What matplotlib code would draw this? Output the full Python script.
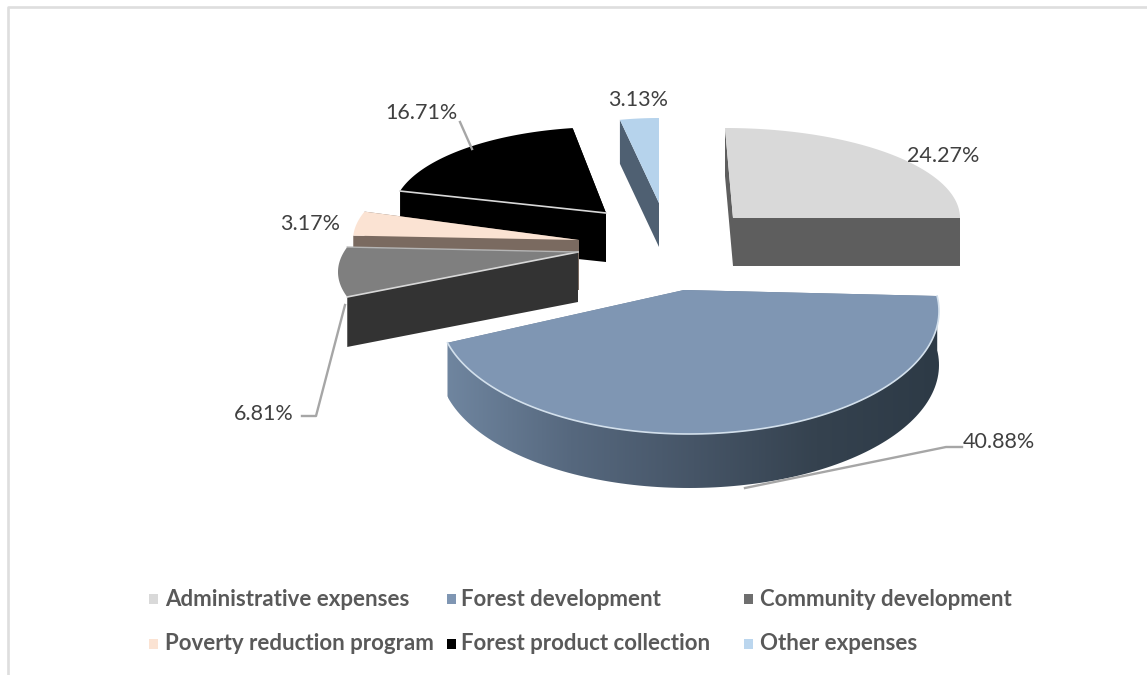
import numpy as np
import matplotlib
matplotlib.use("Agg")
import matplotlib.pyplot as plt
from matplotlib.colors import LinearSegmentedColormap
from matplotlib.patches import Polygon, Rectangle

# Budget shares
categories = ["Administrative expenses", "Forest development", "Community development",
              "Poverty reduction program", "Forest product collection", "Other expenses"]
shares = [24.27, 40.88, 6.81, 3.17, 16.71, 3.13]

top_colors = ["#D9D9D9", "#7F96B3", "#7F7F7F", "#FBE3D3", "#000000", "#B6D3EC"]
legend_colors = ["#D9D9D9", "#7F96B3", "#6E6E6E", "#FBE3D3", "#000000", "#BBD6EE"]
wall_colors = ["#5E5E5E", "#6A7F98", "#333333", "#7A6A60", "#000000", "#4F6072"]
curved_wall_ramp = ["#6F859F", "#56687E", "#465567", "#35424F", "#2D3A46"]

# 3-D look of each exploded slice: tip, rim ellipse centre, radii, rim angle at the
# slice's first edge, angular stretch and wall height, all in pixels of the canvas.
views = [
    dict(tip=(733, 218), centre=(725, 218), rx=235, ry=90, phi0=0, gain=0.978, depth=48),
    dict(tip=(684, 290), centre=(689, 311), rx=250, ry=123, phi0=83, gain=1.11, depth=54),
    dict(tip=(578, 252), centre=(574, 272), rx=236, ry=90, phi0=253.9, gain=1.247, depth=50),
    dict(tip=(579, 240), centre=(579, 240), rx=226, ry=90, phi0=272.78, gain=1.3, depth=50),
    dict(tip=(606, 213), centre=(606, 213), rx=213, ry=86, phi0=284.79, gain=1.045, depth=49),
    dict(tip=(659, 203), centre=(659, 203), rx=190, ry=85, phi0=348.13, gain=1.0, depth=44),
]
draw_order = [5, 4, 0, 3, 2, 1]
FOREST = 1

label_texts = ["24.27%", "40.88%", "6.81%", "3.17%", "16.71%", "3.13%"]
label_anchor = [(943, 156), (999, 442), (264, 414), (310, 224), (421, 113), (638, 100)]
leaders = {1: [(962, 447), (946, 447), (745, 488)],
           2: [(302, 416), (316, 416), (345, 305)],
           4: [(460, 122), (472, 149)]}

legend_marker_x = [149, 447, 744]
legend_text_x = [165, 461, 760]
legend_y = [599, 644]

fig = plt.figure(figsize=(11.47, 6.75), dpi=100)
ax = fig.add_axes([0, 0, 1, 1])
ax.set_xlim(0, 1147)
ax.set_ylim(675, 0)
ax.axis("off")

# Chart frame: only its top and left sides fall inside the canvas
ax.plot([7.5, 7.5, 1147], [675, 7, 7], color="#DEDEDE", lw=1.9)

# Slice angles come from the shares, normalised over the whole circle
fractions = np.array(shares) / np.sum(shares)
edges = np.concatenate([[0], np.cumsum(fractions)]) * 360.0


def rim_points(v, t0, t1, n=120):
    theta = np.linspace(t0, t1, n)
    phi = np.radians(v["phi0"] + v["gain"] * (theta - t0))
    cx, cy = v["centre"]
    return np.column_stack([cx + v["rx"] * np.sin(phi), cy - v["ry"] * np.cos(phi)])


for z, i in enumerate(draw_order):
    v = views[i]
    rim = rim_points(v, edges[i], edges[i + 1])
    tip = np.array(v["tip"], float)
    drop = np.array([0, v["depth"]])

    # Straight walls from the tip to each end of the rim
    for end in (rim[0], rim[-1]):
        ax.add_patch(Polygon([tip, end, end + drop, tip + drop], closed=True,
                             facecolor=wall_colors[i], edgecolor="none", zorder=2 + z))

    # The big slice shows its curved outer wall, shaded smoothly from left to right
    if i == FOREST:
        outline = np.vstack([rim, (rim + drop)[::-1]])
        ramp = LinearSegmentedColormap.from_list("wall", curved_wall_ramp)
        lo, hi = outline[:, 0].min(), outline[:, 0].max()
        top, bottom = outline[:, 1].min(), outline[:, 1].max()
        shade = ax.imshow(np.linspace(0, 1, 256).reshape(1, -1), cmap=ramp, aspect="auto",
                          extent=(lo, hi, bottom, top), zorder=2 + z)
        shade.set_clip_path(Polygon(outline, closed=True, transform=ax.transData))

    # Top face
    ax.add_patch(Polygon(np.vstack([tip, rim]), closed=True, facecolor=top_colors[i],
                         edgecolor="none", zorder=2 + z))

    # Pale bevel along the visible edges
    if i == FOREST:
        ax.plot(rim[:, 0], rim[:, 1], color="#D3E0EC", lw=1.2, zorder=2.5 + z)
    if i == 2 or i == 4:
        ax.plot([tip[0], rim[0, 0]], [tip[1], rim[0, 1]], color="#D8D8D8", lw=1.2, zorder=2.5 + z)
    if i == 2:
        ax.plot([tip[0], rim[-1, 0]], [tip[1], rim[-1, 1]], color="#B5B5B5", lw=1.0, zorder=2.5 + z)

ax.set_xlim(0, 1147)
ax.set_ylim(675, 0)

# Leader lines and value labels
for pts in leaders.values():
    p = np.array(pts)
    ax.plot(p[:, 0], p[:, 1], color="#A6A6A6", lw=1.7, zorder=12)

label_font = ["Lato", "DejaVu Sans"]
for text, (x, y) in zip(label_texts, label_anchor):
    ax.text(x, y, text, ha="center", va="center", fontsize=15.5, color="#404040",
            family=label_font, zorder=13)

# Legend, two rows of three
for k, (name, col) in enumerate(zip(categories, legend_colors)):
    row, column = k // 3, k % 3
    ax.add_patch(Rectangle((legend_marker_x[column], legend_y[row] - 5), 9, 10,
                           facecolor=col, edgecolor="none"))
    ax.text(legend_text_x[column], legend_y[row], name, ha="left", va="center",
            fontsize=16, fontweight="bold", color="#595959", family=label_font)

fig.savefig("out.png", dpi=100, facecolor="white")
